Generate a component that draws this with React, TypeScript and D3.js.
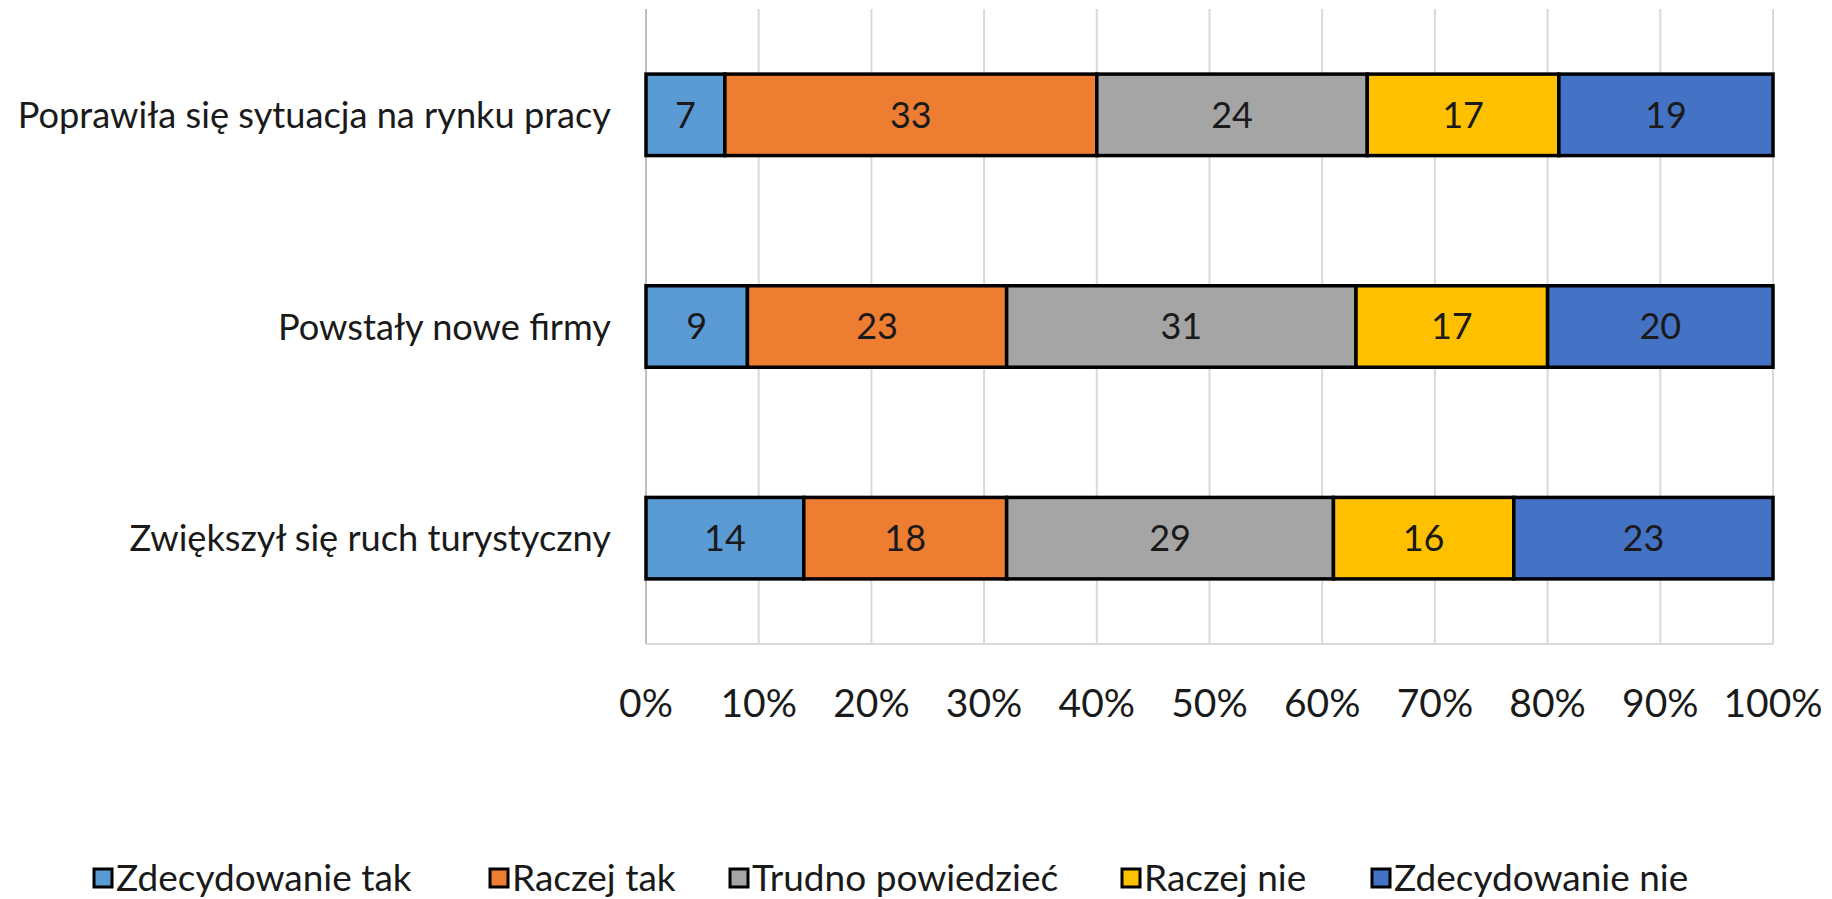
import React, { useEffect } from 'react';
import * as d3 from 'd3';

const categories = [
  'Poprawiła się sytuacja na rynku pracy',
  'Powstały nowe firmy',
  'Zwiększył się ruch turystyczny',
];

const seriesNames = ['Zdecydowanie tak', 'Raczej tak', 'Trudno powiedzieć', 'Raczej nie', 'Zdecydowanie nie'];
const seriesColors = ['#5B9BD5', '#ED7D31', '#A5A5A5', '#FFC000', '#4472C4'];

// one row per category, one value per series
const zdecydowanieTak = [7, 9, 14];
const raczejTak = [33, 23, 18];
const trudnoPowiedziec = [24, 31, 29];
const raczejNie = [17, 17, 16];
const zdecydowanieNie = [19, 20, 23];

const xTicks = [0, 10, 20, 30, 40, 50, 60, 70, 80, 90, 100];

const W = 1832;
const H = 899;
const FONT = 'Lato, "Open Sans", sans-serif';

const App: React.FC = () => {
  useEffect(() => {
    document.body.style.margin = '0';
  }, []);

  const margin = { top: 9, right: 59, bottom: 255, left: 646 };
  const plotW = W - margin.left - margin.right;
  const plotH = H - margin.top - margin.bottom;

  const rows = categories.map((c, i) => ({
    category: c,
    values: [zdecydowanieTak[i], raczejTak[i], trudnoPowiedziec[i], raczejNie[i], zdecydowanieNie[i]],
  }));

  const x = d3.scaleLinear().domain([0, 100]).range([0, plotW]);
  const y = d3.scaleBand<string>()
    .domain(categories)
    .range([0, plotH])
    .paddingInner(0.615)
    .paddingOuter(0.3075);

  // stack values left to right as percentages of the row total
  const stacked = rows.map(r => {
    const total = d3.sum(r.values);
    let acc = 0;
    return r.values.map((v, k) => {
      const x0 = (acc / total) * 100;
      acc += v;
      const x1 = (acc / total) * 100;
      return { category: r.category, value: v, x0, x1, k };
    });
  });

  // legend item positions (left edge of the square)
  const legendX = [94, 490, 730, 1122, 1372];
  const legendY = 878;

  return (
    <svg width={W} height={H} style={{ display: 'block', background: '#fff' }} fontFamily={FONT}>
      <g transform={`translate(${margin.left},${margin.top})`}>
        {/* vertical gridlines */}
        {xTicks.map(t => (
          <line key={t} x1={x(t)} x2={x(t)} y1={0} y2={plotH} stroke="#D9D9D9" strokeWidth={2} />
        ))}
        {/* axis lines */}
        <line x1={0} x2={0} y1={0} y2={plotH} stroke="#BFBFBF" strokeWidth={2} />
        <line x1={0} x2={plotW} y1={plotH} y2={plotH} stroke="#D9D9D9" strokeWidth={2} />

        {/* bars */}
        {stacked.map(segs =>
          segs.map(s => (
            <rect
              key={s.category + s.k}
              x={x(s.x0)}
              y={y(s.category)}
              width={x(s.x1) - x(s.x0)}
              height={y.bandwidth()}
              fill={seriesColors[s.k]}
              stroke="#000"
              strokeWidth={3.5}
            />
          ))
        )}

        {/* data labels */}
        {stacked.map(segs =>
          segs.map(s => (
            <text
              key={'l' + s.category + s.k}
              x={x((s.x0 + s.x1) / 2)}
              y={(y(s.category) || 0) + y.bandwidth() / 2}
              dy="0.36em"
              textAnchor="middle"
              fontSize={36}
              fill="#1a1a1a"
            >
              {s.value}
            </text>
          ))
        )}

        {/* category labels */}
        {categories.map(c => (
          <text
            key={c}
            x={-35}
            y={(y(c) || 0) + y.bandwidth() / 2}
            dy="0.36em"
            textAnchor="end"
            fontSize={36.2}
            fill="#1a1a1a"
          >
            {c}
          </text>
        ))}

        {/* x tick labels */}
        {xTicks.map(t => (
          <text
            key={'t' + t}
            x={x(t)}
            y={plotH + 59}
            dy="0.36em"
            textAnchor="middle"
            fontSize={39}
            fill="#1a1a1a"
          >
            {t + '%'}
          </text>
        ))}
      </g>

      {/* legend */}
      {seriesNames.map((n, k) => (
        <g key={n} transform={`translate(${legendX[k]},${legendY})`}>
          <rect x={0} y={-9} width={18} height={18} fill={seriesColors[k]} stroke="#000" strokeWidth={3} />
          <text x={22} y={0} dy="0.36em" fontSize={37} fill="#1a1a1a">
            {n}
          </text>
        </g>
      ))}
    </svg>
  );
};

export default App;
